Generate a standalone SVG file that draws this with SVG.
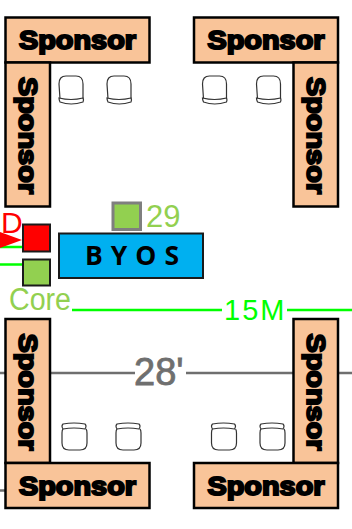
<svg xmlns="http://www.w3.org/2000/svg" width="352" height="529" viewBox="0 0 352 529">
<style>
.s rect{fill:#f9c499;stroke:#000;stroke-width:2.500}
.s text{font-family:"Liberation Sans",Arial,sans-serif;font-weight:700;font-size:25.500px;fill:#000;stroke:#000;stroke-width:2px;text-anchor:middle}
.g{font-family:"Liberation Sans",Arial,sans-serif;font-size:31px;fill:#92d050}
.c{fill:#fff;stroke:#333;stroke-width:1.200}
.gl{stroke:#6f6f6f;stroke-width:2.500;fill:none}
.gr{stroke:#00ff00;stroke-width:2.500;fill:none}
</style>
<defs>
<g id="chairU"><path d="M1 23L0 8Q0 0 7 0H17Q24 0 24 8V23"/><path d="M0 22Q12 25 24 22Q25 24 24 26Q12 30 1 26Q0 24 0 22Z"/></g>
<g id="chairD"><path d="M1 6Q0 7 0 10V20Q0 27 7 27H18Q25 27 25 20V10Q25 7 24 6"/><path d="M1 1Q12 -1 23 1Q25 3 23 6Q12 4 1 6Q-1 3 1 1Z"/></g>
</defs>
<g id="connectors">
<path class="gl" d="M0 373H135M186 373H352M0 490.500H5"/>
<path class="gr" d="M72 310H222M287 310H352M0 247H23M0 264.500H23"/>
<path d="M0 232L22 240L0 248Z" fill="#ff0000"/>
</g>
<g id="sponsor-tl-h" class="s"><rect x="5.500" y="17.500" width="144" height="45"/><text x="77.500" y="49" textLength="117" lengthAdjust="spacingAndGlyphs">Sponsor</text></g>
<g id="sponsor-tl-v" class="s"><rect x="5.500" y="62.500" width="44.500" height="144"/><text transform="translate(19 135.500) rotate(90)" textLength="117" lengthAdjust="spacingAndGlyphs">Sponsor</text></g>
<g id="sponsor-tr-h" class="s"><rect x="194" y="17.500" width="144" height="45"/><text x="266" y="49" textLength="117" lengthAdjust="spacingAndGlyphs">Sponsor</text></g>
<g id="sponsor-tr-v" class="s"><rect x="293.500" y="62.500" width="44.500" height="144"/><text transform="translate(307 135.500) rotate(90)" textLength="117" lengthAdjust="spacingAndGlyphs">Sponsor</text></g>
<g id="sponsor-bl-v" class="s"><rect x="5.500" y="319" width="44.500" height="144"/><text transform="translate(19 392) rotate(90)" textLength="117" lengthAdjust="spacingAndGlyphs">Sponsor</text></g>
<g id="sponsor-bl-h" class="s"><rect x="5.500" y="463" width="144" height="45"/><text x="77.500" y="495" textLength="117" lengthAdjust="spacingAndGlyphs">Sponsor</text></g>
<g id="sponsor-br-v" class="s"><rect x="293.500" y="319" width="44.500" height="144"/><text transform="translate(307 392) rotate(90)" textLength="117" lengthAdjust="spacingAndGlyphs">Sponsor</text></g>
<g id="sponsor-br-h" class="s"><rect x="194" y="463" width="144" height="45"/><text x="266" y="495" textLength="117" lengthAdjust="spacingAndGlyphs">Sponsor</text></g>
<g id="chairs" class="c">
<use href="#chairU" x="59" y="76"/><use href="#chairU" x="107" y="76"/>
<use href="#chairU" x="202.500" y="76"/><use href="#chairU" x="256.500" y="76"/>
<use href="#chairD" x="62" y="423"/><use href="#chairD" x="116" y="423"/>
<use href="#chairD" x="211.500" y="423"/><use href="#chairD" x="260" y="423"/>
</g>
<g id="byos"><rect x="59" y="233.500" width="144" height="44.500" fill="#00b0f0" stroke="#1a1a1a" stroke-width="2"/><text x="136" y="265" text-anchor="middle" font-family="'Open Sans','Liberation Sans',sans-serif" font-weight="700" font-size="26.500" letter-spacing="8" fill="#000">BYOS</text></g>
<g id="node-29"><rect x="113" y="203" width="27.500" height="26.500" fill="#92d050" stroke="#7f7f7f" stroke-width="3"/><text class="g" x="146" y="227">29</text></g>
<g id="node-red"><rect x="23" y="224.500" width="27" height="27" fill="#ff0000" stroke="#1a1a1a" stroke-width="2"/></g>
<g id="node-core"><rect x="23" y="259.500" width="27" height="26" fill="#92d050" stroke="#1a1a1a" stroke-width="2"/><text class="g" x="9" y="310" textLength="62" lengthAdjust="spacingAndGlyphs">Core</text></g>
<text x="1" y="233" font-family="'Liberation Sans',Arial,sans-serif" font-size="30" fill="#ff0000">D</text>
<text x="224" y="320" font-family="'Liberation Sans',Arial,sans-serif" font-size="29" fill="#00ff00" letter-spacing="2">15M</text>
<text x="134" y="385" font-family="'Liberation Sans',Arial,sans-serif" font-size="38" fill="#6f6f6f" stroke="#6f6f6f" stroke-width=".8">28'</text>
</svg>
